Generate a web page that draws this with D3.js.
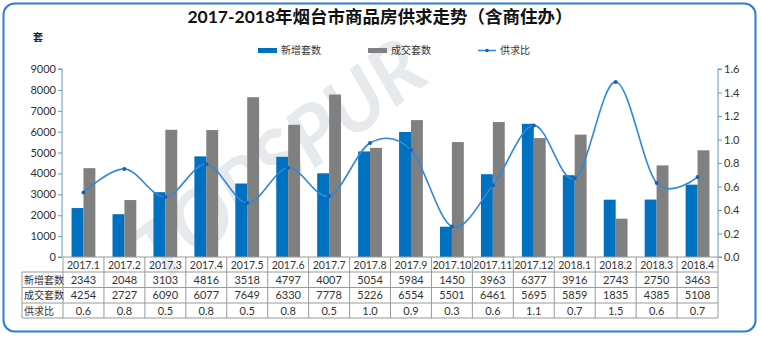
<!DOCTYPE html>
<html><head><meta charset="utf-8">
<script src="https://cdn.jsdelivr.net/npm/d3@7/dist/d3.min.js"></script>
<style>
html,body{margin:0;padding:0;background:#fff;}
svg text{font-family:Lato,"Noto Sans CJK SC",sans-serif;}
</style></head>
<body><svg id="c" width="761" height="337"></svg>
<script>
const categories = ["2017.1","2017.2","2017.3","2017.4","2017.5","2017.6","2017.7","2017.8","2017.9","2017.10","2017.11","2017.12","2018.1","2018.2","2018.3","2018.4"];
const newSupply = [2343,2048,3103,4816,3518,4797,4007,5054,5984,1450,3963,6377,3916,2743,2750,3463];
const sales = [4254,2727,6090,6077,7649,6330,7778,5226,6554,5501,6461,5695,5859,1835,4385,5108];
const ratio = [0.55,0.75,0.51,0.79,0.46,0.76,0.52,0.97,0.91,0.26,0.61,1.12,0.67,1.49,0.63,0.68];
const ratioLabels = ["0.6","0.8","0.5","0.8","0.5","0.8","0.5","1.0","0.9","0.3","0.6","1.1","0.7","1.5","0.6","0.7"];
const leftTicks = [0,1000,2000,3000,4000,5000,6000,7000,8000,9000];
const rightTicks = [0,0.2,0.4,0.6,0.8,1.0,1.2,1.4,1.6];
const seriesNames = ["新增套数","成交套数","供求比"];
const title = "2017-2018年烟台市商品房供求走势（含商住办）";

const svg = d3.select("#c");
const BLUE = "#0070c0", GRAY = "#808080", LINE = "#2f88d8", AXIS = "#5b9bd5";
const x0 = 63, x1 = 718, yTop = 69, yBot = 257;

// outer border
svg.append("rect").attr("x",3.5).attr("y",3.5).attr("width",752).attr("height",328)
  .attr("rx",11).attr("fill","#fff").attr("stroke","#2e7dd1").attr("stroke-width",2);

// watermark
const wm = svg.append("g").attr("opacity",0.2);
wm.append("text").attr("transform","translate(160,285) rotate(-37)")
  .attr("font-size",80).attr("font-weight","bold").attr("font-style","italic")
  .attr("fill","#8a9aa8").attr("font-family","'DejaVu Sans',sans-serif").text("TOPSPUR");

const x = d3.scaleBand().domain(categories).range([x0,x1]).paddingInner(0).paddingOuter(0);
const xs = d3.scaleBand().domain([0,1]).range([0,x.bandwidth()]).paddingOuter(0.72).paddingInner(0);
const yL = d3.scaleLinear().domain([0,9000]).range([yBot,yTop]);
const yR = d3.scaleLinear().domain([0,1.6]).range([yBot,yTop]);

// title
svg.append("text").attr("x",380).attr("y",23).attr("text-anchor","middle")
  .attr("font-size",17.5).attr("font-weight","bold").attr("fill","#111")
  .attr("font-family","'Noto Sans CJK SC',sans-serif").text(title);
svg.append("text").attr("x",33).attr("y",41).attr("font-size",10).attr("font-weight","bold")
  .attr("fill","#222").attr("font-family","'Noto Sans CJK SC',sans-serif").text("套");

// legend
const lg = svg.append("g").attr("font-size",10).attr("fill","#333");
lg.append("rect").attr("x",258).attr("y",48).attr("width",19).attr("height",5).attr("fill",BLUE);
lg.append("text").attr("x",281).attr("y",54).attr("font-family","'Noto Sans CJK SC',sans-serif").text(seriesNames[0]);
lg.append("rect").attr("x",368).attr("y",48).attr("width",19).attr("height",5).attr("fill",GRAY);
lg.append("text").attr("x",391).attr("y",54).attr("font-family","'Noto Sans CJK SC',sans-serif").text(seriesNames[1]);
lg.append("line").attr("x1",478).attr("x2",496).attr("y1",50.5).attr("y2",50.5).attr("stroke",LINE).attr("stroke-width",1.5);
lg.append("circle").attr("cx",487).attr("cy",50.5).attr("r",1.8).attr("fill","#1f5fa8");
lg.append("text").attr("x",500).attr("y",54).attr("font-family","'Noto Sans CJK SC',sans-serif").text(seriesNames[2]);

// bars
const g = svg.append("g");
categories.forEach((c,i)=>{
  g.append("rect").attr("x",x(c)+xs(0)).attr("width",xs.bandwidth())
    .attr("y",yL(newSupply[i])).attr("height",yBot-yL(newSupply[i])).attr("fill",BLUE);
  g.append("rect").attr("x",x(c)+xs(1)).attr("width",xs.bandwidth())
    .attr("y",yL(sales[i])).attr("height",yBot-yL(sales[i])).attr("fill",GRAY);
});

// line
const pts = categories.map((c,i)=>[x(c)+x.bandwidth()/2, yR(ratio[i])]);
svg.append("path").attr("d", d3.line().curve(d3.curveCardinal.tension(0))(pts))
  .attr("fill","none").attr("stroke",LINE).attr("stroke-width",1.6);
svg.selectAll(".dot").data(pts).enter().append("circle")
  .attr("cx",d=>d[0]).attr("cy",d=>d[1]).attr("r",2).attr("fill","#1f5fa8");

// axes
const ax = svg.append("g").attr("transform",`translate(${x0-1},0)`)
  .call(d3.axisLeft(yL).tickValues(leftTicks).tickSize(4).tickPadding(2).tickFormat(d3.format("d")));
ax.select(".domain").attr("stroke",AXIS).attr("d",`M-4,${yTop}H0V${yBot}H-4`);
ax.selectAll(".tick line").attr("stroke",AXIS);
ax.selectAll("text").attr("font-size",11).attr("fill","#333").attr("font-family","Lato,sans-serif");
const ar = svg.append("g").attr("transform",`translate(${x1},0)`)
  .call(d3.axisRight(yR).tickValues(rightTicks).tickSize(4).tickPadding(2).tickFormat(d3.format(".1f")));
ar.select(".domain").attr("stroke",AXIS).attr("d",`M4,${yTop}H0V${yBot}H4`);
ar.selectAll(".tick line").attr("stroke",AXIS);
ar.selectAll("text").attr("font-size",11).attr("fill","#333").attr("font-family","Lato,sans-serif");

// data table
const rowY = [257,272,287.5,303,318];
const labX = 22;
const tg = svg.append("g");
const GRID = "#9a9a9a";
const rows = [newSupply.map(String), sales.map(String), ratioLabels];
rowY.forEach((yy,k)=>{
  tg.append("line").attr("x1",k===0?x0:labX).attr("x2",x1).attr("y1",yy).attr("y2",yy).attr("stroke",GRID);
});
tg.append("line").attr("x1",labX).attr("x2",labX).attr("y1",rowY[1]).attr("y2",rowY[4]).attr("stroke",GRID);
categories.forEach(c=>{
  tg.append("line").attr("x1",x(c)).attr("x2",x(c)).attr("y1",rowY[0]).attr("y2",rowY[4]).attr("stroke",GRID);
});
tg.append("line").attr("x1",x1).attr("x2",x1).attr("y1",rowY[0]).attr("y2",rowY[4]).attr("stroke",GRID);
categories.forEach(c=>{
  tg.append("text").attr("x",x(c)+x.bandwidth()/2).attr("y",rowY[0]+11.5).attr("text-anchor","middle")
    .attr("font-size",10.5).attr("fill","#333").text(c);
});
rows.forEach((r,k)=>{
  tg.append("text").attr("x",labX+2).attr("y",rowY[k+1]+11.5).attr("font-size",10)
    .attr("fill","#333").attr("font-family","'Noto Sans CJK SC',sans-serif").text(seriesNames[k]);
  r.forEach((v,i)=>{
    tg.append("text").attr("x",x(categories[i])+x.bandwidth()/2).attr("y",rowY[k+1]+11.5)
      .attr("text-anchor","middle").attr("font-size",11).attr("fill","#333").text(v);
  });
});
</script></body></html>
